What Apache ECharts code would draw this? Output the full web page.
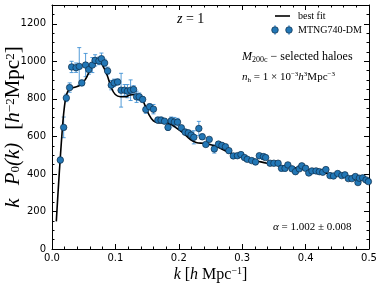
<!DOCTYPE html>
<html><head><meta charset="utf-8">
<script src="https://cdn.jsdelivr.net/npm/echarts@6/dist/echarts.min.js"></script>
<style>html,body{margin:0;padding:0;background:#fff}#c{width:382px;height:287px}</style>
</head><body><div id="c"></div>
<script>
// measured data (k, k P0(k), error)
const kData = [0.0131,0.0184,0.0226,0.0278,0.031,0.038,0.043,0.047,0.053,0.058,0.0636,0.068,0.074,0.078,0.083,0.0877,0.0935,0.098,0.1035,0.109,0.1145,0.119,0.124,0.1287,0.1334,0.1376,0.143,0.148,0.154,0.160,0.167,0.172,0.1775,0.183,0.188,0.193,0.198,0.204,0.210,0.215,0.2195,0.2237,0.2316,0.237,0.2426,0.248,0.256,0.2626,0.268,0.2736,0.279,0.286,0.2925,0.298,0.3036,0.308,0.315,0.321,0.327,0.3335,0.337,0.344,0.350,0.3566,0.362,0.3676,0.372,0.3786,0.384,0.390,0.394,0.400,0.405,0.410,0.4165,0.4217,0.427,0.432,0.4385,0.444,0.4506,0.457,0.462,0.4674,0.473,0.4785,0.4826,0.4848,0.490,0.4953,0.499];
const pData = [474,648,805,860,970,966,973,885,980,956,980,1005,1002,1014,991,949,873,885,890,846,846,841,846,850,811,811,797,743,758,745,687,687,681,648,683,676,676,646,623,619,607,595,642,598,557,584,533,559,552,545,524,496,497,503,487,478,471,464,497,492,487,457,457,457,430,430,448,427,412,427,443,430,405,416,416,412,409,423,391,389,402,391,395,375,375,386,354,377,379,368,359];
const eData = [15,55,20,25,30,25,100,15,62,25,40,30,20,30,20,20,25,20,15,90,30,35,55,20,30,20,15,20,15,25,15,15,10,15,20,25,20,10,15,10,20,35,38,15,10,10,22,10,15,10,10,8,8,8,8,8,8,15,8,15,8,8,8,8,15,15,8,8,8,8,8,8,8,8,8,8,8,8,8,8,8,8,8,8,8,8,8,8,8,8,8];
// best-fit curve
const kFit = [0.0068,0.0158,0.021,0.026,0.034,0.0446,0.0525,0.060,0.068,0.075,0.081,0.087,0.0935,0.0998,0.108,0.1155,0.123,0.131,0.139,0.1455,0.152,0.160,0.168,0.1786,0.1865,0.197,0.2075,0.218,0.2285,0.239,0.2495,0.26,0.2757,0.2915,0.307,0.323,0.3388,0.3545,0.370,0.386,0.402,0.4175,0.433,0.449,0.465,0.4806,0.499];
const pFit = [147,616,793,846,860,873,903,952,991,996,970,926,860,823,811,811,820,823,811,775,722,683,673,673,666,643,616,584,566,563,556,545,519,497,481,469,457,446,439,430,421,412,404,395,386,377,368];
const xTicks = [0, 0.1, 0.2, 0.3, 0.4, 0.5];
const yTicks = [0, 200, 400, 600, 800, 1000, 1200];

const pts = kData.map((k,i)=>[k,pData[i]]);
const errs = kData.map((k,i)=>[k,pData[i]-eData[i],pData[i]+eData[i]]);
const fit = kFit.map((k,i)=>[k,pFit[i]]);

const serif = 'Liberation Serif';
const errColor = 'rgba(55,140,210,0.85)';
const dotFill = '#2277b6', dotEdge = '#0e2c48';
const minorX = {show:true,splitNumber:5,length:2.5,lineStyle:{color:'#000',width:1}};
const minorY = {show:true,splitNumber:4,length:2.5,lineStyle:{color:'#000',width:1}};
const axisCommon = {
  axisLine:{show:true,onZero:false,lineStyle:{color:'#000',width:1}},
  axisTick:{show:true,inside:true,length:5,lineStyle:{color:'#000',width:1}},
  splitLine:{show:false}
};
const nameRich = (fs,ss,pad)=>({
  i:{fontStyle:'italic',fontFamily:serif,fontSize:fs,lineHeight:18,padding:[0,pad,0,0]},
  j:{fontStyle:'italic',fontFamily:serif,fontSize:fs,lineHeight:18},
  t:{fontFamily:serif,fontSize:fs,lineHeight:18},
  s:{fontFamily:serif,fontSize:ss,lineHeight:9,verticalAlign:'top'},
  b:{fontFamily:serif,fontSize:ss,lineHeight:9,verticalAlign:'bottom'}
});
const chart = echarts.init(document.getElementById('c'));
chart.setOption({
  animation:false,
  grid:{left:52,right:13,top:5,bottom:38,outerBoundsMode:'none'},
  xAxis:[
    Object.assign({type:'value',min:0,max:0.5,interval:0.1,minorTick:minorX,
      axisLabel:{color:'#000',fontFamily:'DejaVu Sans',fontSize:10,margin:4,formatter:v=>v.toFixed(1)},
      name:'{j|k} {t|[}{j|h}{t| Mpc}{s|−1}{t|]}',nameLocation:'middle',nameGap:17,nameMoveOverlap:false,
      nameTextStyle:{fontFamily:serif,fontSize:16,color:'#000',lineHeight:18,rich:nameRich(16,10,0)}
    },axisCommon),
    Object.assign({type:'value',min:0,max:0.5,interval:0.1,position:'top',minorTick:minorX,axisLabel:{show:false}},axisCommon)
  ],
  yAxis:[
    Object.assign({type:'value',min:0,max:1300,interval:200,minorTick:minorY,
      axisLabel:{color:'#000',fontFamily:'DejaVu Sans',fontSize:10,margin:6,
        formatter:v=>yTicks.includes(v)?String(v):''},
      name:'{i|k}{j|P}{b|0}{i|(k)}{t|[}{j|h}{s|−2}{t|Mpc}{s|2}{t|]}',nameLocation:'middle',nameGap:30,nameMoveOverlap:false,
      nameTextStyle:{fontFamily:serif,fontSize:21,color:'#000',lineHeight:18,rich:nameRich(21,13,13)}
    },axisCommon),
    Object.assign({type:'value',min:0,max:1300,interval:200,position:'right',minorTick:minorY,axisLabel:{show:false}},axisCommon)
  ],
  series:[
    {type:'line',data:fit,showSymbol:false,smooth:0.4,lineStyle:{color:'#000',width:1.6},z:3},
    {type:'custom',data:errs,z:2,encode:{x:0,y:[1,2]},
      renderItem:(params,api)=>{
        const x=api.value(0);
        const lo=api.coord([x,api.value(1)]), hi=api.coord([x,api.value(2)]);
        const st={stroke:errColor,lineWidth:1};
        return {type:'group',children:[
          {type:'line',shape:{x1:lo[0],y1:lo[1],x2:hi[0],y2:hi[1]},style:st},
          {type:'line',shape:{x1:lo[0]-2,y1:lo[1],x2:lo[0]+2,y2:lo[1]},style:st},
          {type:'line',shape:{x1:hi[0]-2,y1:hi[1],x2:hi[0]+2,y2:hi[1]},style:st}
        ]};
      }},
    {type:'scatter',data:pts,symbol:'circle',symbolSize:6.5,z:4,
      itemStyle:{color:dotFill,borderColor:dotEdge,borderWidth:0.7,opacity:1}}
  ],
  graphic:[
    {type:'text',left:177,top:12,style:{text:'{i|z} = 1',fontFamily:serif,fontSize:14,fill:'#000',rich:{i:{fontStyle:'italic',fontFamily:serif,fontSize:14}}}},
    {type:'line',shape:{x1:275,y1:16,x2:290,y2:16},style:{stroke:'#000',lineWidth:1.6}},
    {type:'text',left:298,top:11,style:{text:'best fit',fontFamily:serif,fontSize:10,fill:'#000'}},
    {type:'line',shape:{x1:275,y1:25,x2:275,y2:35},style:{stroke:errColor,lineWidth:1}},
    {type:'line',shape:{x1:289,y1:25,x2:289,y2:35},style:{stroke:errColor,lineWidth:1}},
    {type:'circle',shape:{cx:275,cy:30,r:3.3},style:{fill:dotFill,stroke:dotEdge,lineWidth:0.7}},
    {type:'circle',shape:{cx:289,cy:30,r:3.3},style:{fill:dotFill,stroke:dotEdge,lineWidth:0.7}},
    {type:'text',left:298,top:25,style:{text:'MTNG740-DM',fontFamily:serif,fontSize:10,fill:'#000'}},
    {type:'text',left:242,top:51,style:{text:'{i|M}{b|200c}{t| − selected haloes}',fill:'#000',
      rich:{i:{fontStyle:'italic',fontFamily:serif,fontSize:12,lineHeight:14},t:{fontFamily:serif,fontSize:12,lineHeight:14},b:{fontFamily:serif,fontSize:8,lineHeight:8,verticalAlign:'bottom'}}}},
    {type:'text',left:242,top:71,style:{text:'{i|n}{b|h}{t| = 1 × 10}{s|−3}{i|h}{s|3}{t|Mpc}{s|−3}',fill:'#000',
      rich:{i:{fontStyle:'italic',fontFamily:serif,fontSize:11,lineHeight:13},t:{fontFamily:serif,fontSize:11,lineHeight:13},b:{fontFamily:serif,fontSize:7,lineHeight:8,verticalAlign:'bottom'},s:{fontFamily:serif,fontSize:7,lineHeight:8,verticalAlign:'top'}}}},
    {type:'text',left:273,top:222,style:{text:'{i|α} = 1.002 ± 0.008',fontFamily:serif,fontSize:11,fill:'#000',rich:{i:{fontStyle:'italic',fontFamily:serif,fontSize:11}}}}
  ]
});
</script></body></html>
